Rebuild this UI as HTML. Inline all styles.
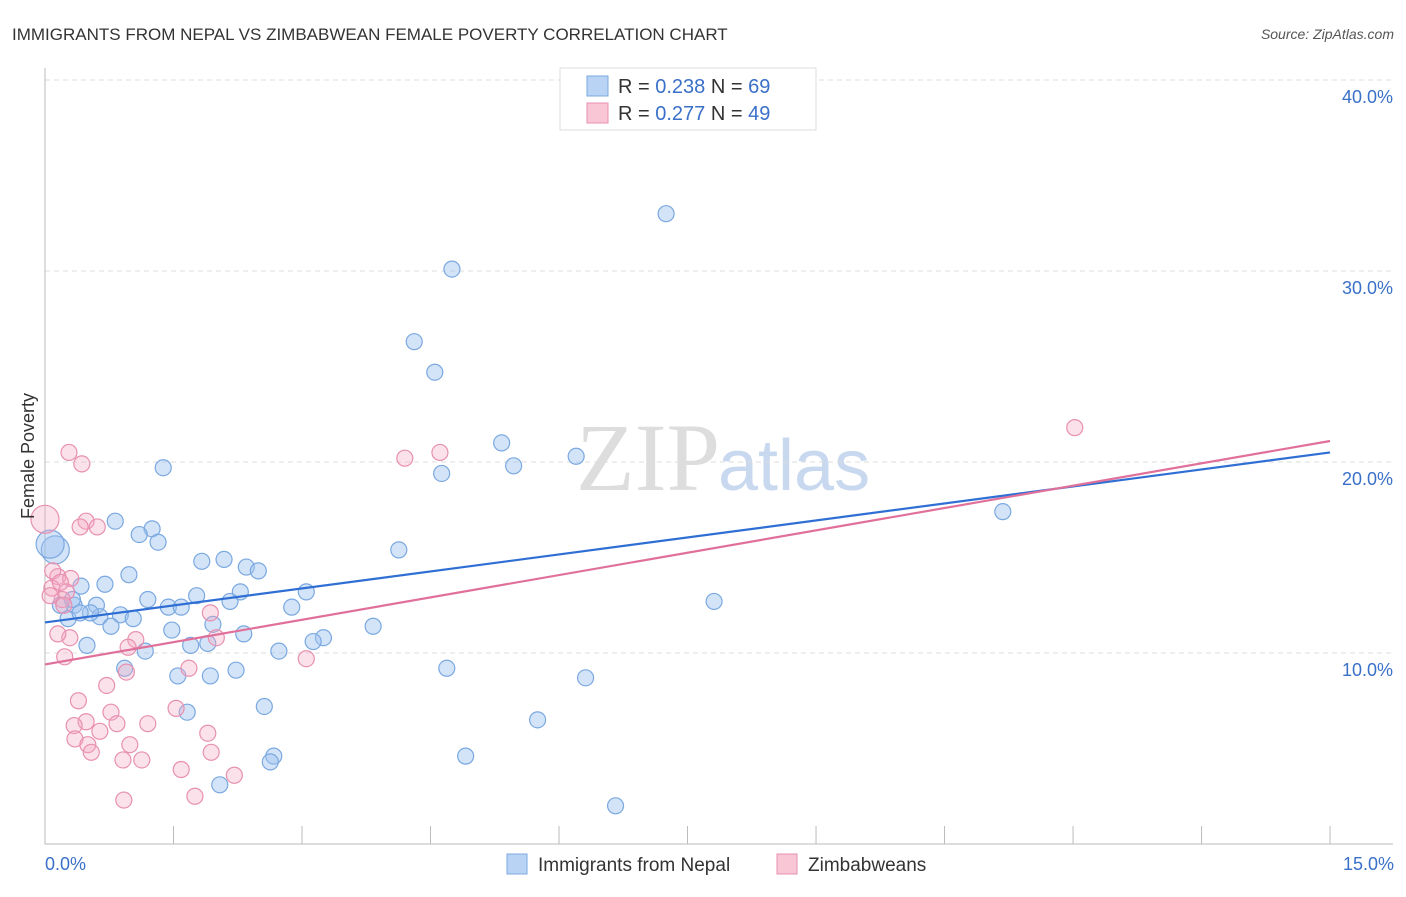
<!DOCTYPE html>
<html><head><meta charset="utf-8"><style>
body{margin:0;background:#fff;font-family:"Liberation Sans",sans-serif}
svg text{font-family:"Liberation Sans",sans-serif}
</style></head><body>
<svg id="c" width="1406" height="892">
<text x="12" y="40" font-size="17" fill="#333">IMMIGRANTS FROM NEPAL VS ZIMBABWEAN FEMALE POVERTY CORRELATION CHART</text>
<text x="1394" y="39" font-size="14" fill="#555" font-style="italic" text-anchor="end">Source: ZipAtlas.com</text>
<text x="720" y="490" font-size="96" fill="#ddd" text-anchor="end" font-family="Liberation Serif" style="font-family:'Liberation Serif',serif">ZIP</text>
<text x="718" y="490" font-size="72" fill="#c8d8ef">atlas</text>
<g id="grid"></g><g id="pts"></g><g id="lines"></g>
<text transform="translate(34,456) rotate(-90)" font-size="18" fill="#333" text-anchor="middle">Female Poverty</text>
<text x="45" y="870" font-size="18" fill="#3a70c8">0.0%</text>
<text x="1394" y="870" font-size="18" fill="#3a70c8" text-anchor="end">15.0%</text>
<g>
<rect x="560" y="68" width="256" height="62" fill="#fff" stroke="#ddd"/>
<rect x="587" y="76" width="21" height="20" fill="#b9d3f5" stroke="#7aa8e0"/>
<rect x="587" y="103" width="21" height="20" fill="#f9c6d6" stroke="#e890b0"/>
<text x="618" y="93" font-size="20" fill="#333">R = <tspan fill="#3a70c8">0.238</tspan>   N = <tspan fill="#3a70c8">69</tspan></text>
<text x="618" y="120" font-size="20" fill="#333">R = <tspan fill="#3a70c8">0.277</tspan>   N = <tspan fill="#3a70c8">49</tspan></text>
</g>
<g>
<rect x="507" y="854" width="20" height="20" fill="#b9d3f5" stroke="#7aa8e0"/>
<text x="538" y="871" font-size="19" fill="#333">Immigrants from Nepal</text>
<rect x="777" y="854" width="20" height="20" fill="#f9c6d6" stroke="#e890b0"/>
<text x="808" y="871" font-size="19" fill="#333">Zimbabweans</text>
</g>
</svg>
<script>
const yTicks=[10,20,30,40];
const yTickLabels=["10.0%","20.0%","30.0%","40.0%"];
const blueX=[7.25,4.75,4.31,4.55,5.33,5.47,6.20,4.63,1.38,0.82,1.25,1.10,1.32,4.13,11.18,1.83,2.09,2.35,2.49,0.98,0.42,0.70,2.28,1.77,3.05,1.20,2.16,1.44,1.59,2.88,0.60,0.34,0.88,0.64,0.53,1.03,0.27,0.77,1.96,3.83,1.48,2.32,3.25,3.13,1.90,1.70,0.49,1.17,2.73,7.81,0.93,2.23,4.69,1.55,1.93,6.31,2.56,1.66,5.75,2.67,2.63,4.91,2.04,6.66,0.12,0.06,0.18,0.32,0.41];
const blueY=[33.0,30.1,26.3,24.7,21.0,19.8,20.3,19.4,19.7,16.9,16.5,16.2,15.8,15.4,17.4,14.8,14.9,14.5,14.3,14.1,13.5,13.6,13.2,13.0,13.2,12.8,12.7,12.4,12.4,12.4,12.5,12.5,12.0,11.9,12.1,11.8,11.8,11.4,11.5,11.4,11.2,11.0,10.8,10.6,10.5,10.4,10.4,10.1,10.1,12.7,9.2,9.1,9.2,8.8,8.8,8.7,7.2,6.9,6.5,4.6,4.3,4.6,3.1,2.0,15.4,15.7,12.5,12.8,12.1];
const pinkX=[12.02,4.61,4.20,0.28,0.43,0.0,0.48,0.61,0.41,0.15,0.30,0.08,0.25,0.20,1.93,2.00,1.06,0.29,0.15,0.97,0.23,3.05,1.68,0.95,0.72,0.39,1.53,0.77,0.48,1.20,0.84,0.34,1.90,0.64,0.35,0.99,0.50,0.54,1.94,0.91,1.13,1.59,2.21,1.75,0.92,0.09,0.18,0.06,0.22];
const pinkY=[21.8,20.5,20.2,20.5,19.9,17.0,16.9,16.6,16.6,14.0,13.9,13.4,13.2,12.8,12.1,10.8,10.7,10.8,11.0,10.3,9.8,9.7,9.2,9.0,8.3,7.5,7.1,6.9,6.4,6.3,6.3,6.2,5.8,5.9,5.5,5.2,5.2,4.8,4.8,4.4,4.4,3.9,3.6,2.5,2.3,14.3,13.7,13.0,12.5];
const blueTrend=[11.6,20.5];
const pinkTrend=[9.4,21.1];
const NS="http://www.w3.org/2000/svg";
const sx=v=>45+v*85.67, sy=v=>844-v*19.1;
function mk(p,t,a){const e=document.createElementNS(NS,t);for(const k in a)e.setAttribute(k,a[k]);p.appendChild(e);return e;}
const grid=document.getElementById('grid');
yTicks.forEach((t,i)=>{
 const l=mk(grid,'line',{x1:45,x2:1393,y1:sy(t),y2:sy(t),stroke:'#ddd','stroke-dasharray':'5,4'});
 
 
 const tx=mk(grid,'text',{x:1393,y:sy(t)+23,'font-size':18,fill:'#3a70c8','text-anchor':'end'});
 tx.textContent=yTickLabels[i];
 
 
});
const ax=mk(grid,'path',{d:'M45,68V844H1393',stroke:'#bbb',fill:'none'});


for(let i=0;i<=10;i++){const t=mk(grid,'line',{x1:sx(i*1.5),x2:sx(i*1.5),y1:826,y2:844,stroke:'#bbb'});
 
 }
const pts=document.getElementById('pts');
function dots(X,Y,fill,stroke,name){X.forEach((x,i)=>{
 const big=(x<0.15&&((name=='nepal-point'&&Y[i]>15)||(name=='zimbabwe-point'&&Y[i]>16.5)));
 const c=mk(pts,'circle',{cx:sx(x),cy:sy(Y[i]),r:big?14:8,fill:fill,stroke:stroke,'stroke-width':1.2});
 
 });}
dots(blueX,blueY,'rgba(160,196,240,0.45)','#7aa8e0','nepal-point');
dots(pinkX,pinkY,'rgba(244,170,196,0.35)','#e890b0','zimbabwe-point');
const lines=document.getElementById('lines');
const b=mk(lines,'line',{x1:sx(0),x2:sx(15),y1:sy(blueTrend[0]),y2:sy(blueTrend[1]),stroke:'#2f6fd4','stroke-width':2.2});


const p=mk(lines,'line',{x1:sx(0),x2:sx(15),y1:sy(pinkTrend[0]),y2:sy(pinkTrend[1]),stroke:'#e0709a','stroke-width':2.2});


</script>
</body></html>
